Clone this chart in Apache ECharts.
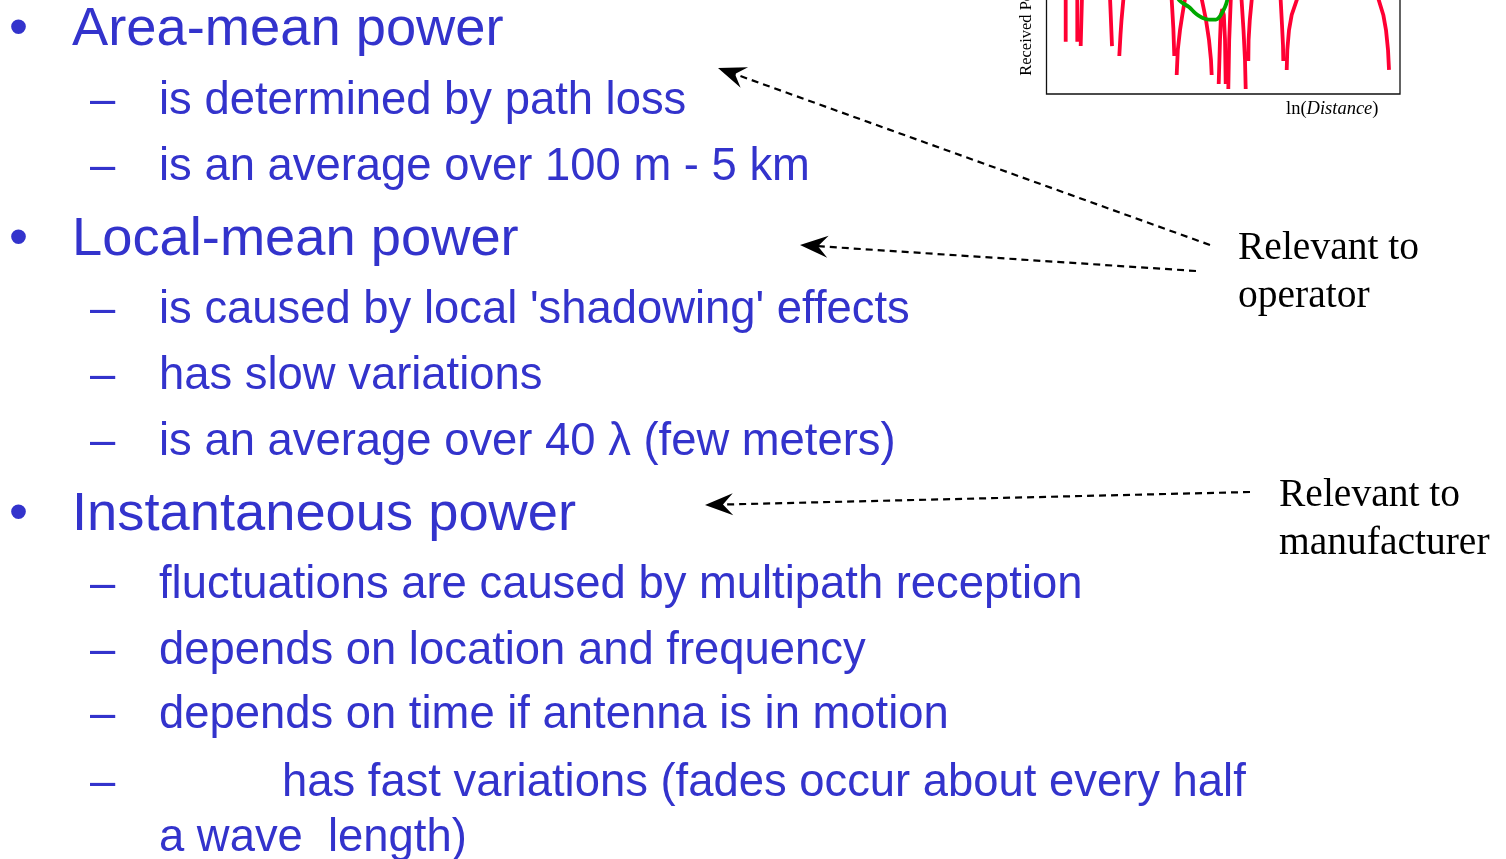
<!DOCTYPE html>
<html><head><meta charset="utf-8">
<script src="https://cdn.jsdelivr.net/npm/echarts@6/dist/echarts.min.js"></script>
<style>html,body{margin:0;padding:0;background:#fff;overflow:hidden}#c{width:1506px;height:859px}</style>
</head><body><div id="c"></div>
<script>
// ---------- data ----------
// Received power (fast fading, red): separate lobes, broken at the deep nulls
const fadingX = [
  5.43, 5.43, 7.07, 8.71, 8.71, '-',
  9.67, 10.04, 14.0, 17.96, 18.53, '-',
  20.59, 20.93, 21.22, 21.81, 28.43, 35.37, 35.88, 36.15, '-',
  36.83, 37.14, 37.77, 38.42, 39.27, 41.44, 43.79, 45.12, 45.97, 46.53, 46.73, '-',
  48.71, 49.08, 49.36, 49.73, 50.16, 50.5, 50.69, '-',
  51.43, 51.68, 52.16, 53.61, 55.13, 55.73, 56.15, 56.35, '-',
  57.09, 57.17, 57.51, 58.13, 62.09, 66.2, 66.62, 66.9, 66.99, '-',
  67.95, 68.12, 68.6, 69.36, 71.09, 82.46, 93.72, 95.28, 96.04, 96.61, 96.89
];
const fadingY = [
  36.3, 67.4, 89.6, 67.4, 36.3, '-',
  33.3, 67.4, 89.6, 67.4, 33.3, '-',
  26.4, 41.0, 51.4, 67.4, 89.6, 67.4, 45.8, 26.4, '-',
  13.2, 30.6, 44.4, 54.9, 67.4, 89.6, 67.4, 51.4, 37.5, 23.6, 13.2, '-',
  6.9, 37.5, 54.9, 59.0, 54.9, 37.5, 6.9, '-',
  3.5, 37.5, 67.4, 89.6, 67.4, 44.4, 23.6, 3.5, '-',
  22.9, 37.5, 51.4, 67.4, 89.6, 67.4, 47.9, 34.0, 22.9, '-',
  16.7, 30.6, 44.4, 54.9, 67.4, 89.6, 67.4, 54.9, 44.4, 30.6, 16.7
];
// Local-mean power (green)
const meanX = [34.94, 37.48, 40.31, 42.0, 43.14, 44.55, 45.97, 47.95, 48.8, 49.65, 50.5, 51.07, 52.2];
const meanY = [79.2, 65.3, 60.4, 56.3, 54.2, 52.4, 51.7, 51.7, 53.1, 56.3, 60.4, 64.6, 79.2];

const yAxisName = 'Received Power';
const xAxisName = ['ln(', 'Distance', ')'];

// slide text
const level0 = ['Area-mean power', 'Local-mean power', 'Instantaneous power'];
const level1 = [
  'is determined by path loss',
  'is an average over 100 m - 5 km',
  'is caused by local \'shadowing\' effects',
  'has slow variations',
  'is an average over 40 \u03bb (few meters)',
  'fluctuations are caused by multipath reception',
  'depends on location and frequency',
  'depends on time if antenna is in motion',
  'has fast variations (fades occur about every half',
  'a wave  length)'
];
const notes = [['Relevant to', 'operator'], ['Relevant to', 'manufacturer']];

// ---------- layout ----------
const BLUE = '#3333cc';
const SANS = 'Liberation Sans, Arial, sans-serif';
const SERIF = 'Liberation Serif, Times New Roman, serif';
const L0 = {fs: 54.3, bulletX: 9, textX: 72, baselines: [49, 259, 534]};
const L1 = {fs: 45.4, dashX: 90, textX: 159,
  baselines: [117, 183, 326, 392, 458, 601, 667, 731, 799, 854],
  xs: [159, 159, 159, 159, 159, 159, 159, 159, 282, 159],
  dash: [1, 1, 1, 1, 1, 1, 1, 1, 1, 0]};
const NOTE = {fs: 39.5, pos: [[1238, 262, 310], [1279, 509, 557]]};
const ARROWS = [
  {from: [1210, 245], to: [718, 68]},
  {from: [1196, 271], to: [800, 245]},
  {from: [1250, 492], to: [705, 505]}
];

function zip(a, b) { return a.map((v, i) => (v === '-' ? ['-', '-'] : [v, b[i]])); }
function txt(s, x, baseline, fs, fam, color) {
  return {type: 'text', silent: true,
    style: {text: s, x: x, y: baseline - 0.345 * fs, fontSize: fs, fontFamily: fam,
      fill: color, align: 'left', verticalAlign: 'middle'}};
}
const graphics = [];
level0.forEach((s, i) => {
  graphics.push(txt('\u2022', L0.bulletX, L0.baselines[i], L0.fs, SANS, BLUE));
  graphics.push(txt(s, L0.textX, L0.baselines[i], L0.fs, SANS, BLUE));
});
level1.forEach((s, i) => {
  if (L1.dash[i]) graphics.push(txt('\u2013', L1.dashX, L1.baselines[i], L1.fs, SANS, BLUE));
  graphics.push(txt(s, L1.xs[i], L1.baselines[i], L1.fs, SANS, BLUE));
});
notes.forEach((pair, i) => {
  const p = NOTE.pos[i];
  graphics.push(txt(pair[0], p[0], p[1], NOTE.fs, SERIF, '#000'));
  graphics.push(txt(pair[1], p[0], p[2], NOTE.fs, SERIF, '#000'));
});
ARROWS.forEach(a => {
  const dx = a.from[0] - a.to[0], dy = a.from[1] - a.to[1];
  const len = Math.hypot(dx, dy), ux = dx / len, uy = dy / len, vx = -uy, vy = ux;
  const P = (s, t) => [a.to[0] + ux * s + vx * t, a.to[1] + uy * s + vy * t];
  const notch = P(18, 0);
  graphics.push({type: 'line', silent: true,
    shape: {x1: a.from[0], y1: a.from[1], x2: notch[0], y2: notch[1]},
    style: {stroke: '#000', lineWidth: 2.2, lineDash: [7, 5]}});
  graphics.push({type: 'polygon', silent: true,
    shape: {points: [P(0, 0), P(28, -11), P(18, 0), P(28, 11)]},
    style: {fill: '#000'}});
});

const chart = echarts.init(document.getElementById('c'), null, {renderer: 'canvas'});
chart.setOption({
  backgroundColor: '#fff',
  animation: false,
  grid: {left: 1046.5, right: 106, top: -50, height: 144, show: true,
    containLabel: false, outerBoundsMode: 'none',
    borderColor: '#111', borderWidth: 1.3, backgroundColor: 'transparent'},
  xAxis: {type: 'value', min: 0, max: 100,
    axisLine: {show: false}, axisTick: {show: false}, axisLabel: {show: false}, splitLine: {show: false},
    name: '{n|' + xAxisName[0] + '}{i|' + xAxisName[1] + '}{n|' + xAxisName[2] + '}',
    nameLocation: 'end', nameGap: -114,
    nameTextStyle: {align: 'left', verticalAlign: 'top', padding: [6, 0, 0, 0],
      rich: {n: {fontFamily: SERIF, fontSize: 18.5, color: '#000'},
             i: {fontFamily: SERIF, fontSize: 18.5, fontStyle: 'italic', color: '#000'}}}},
  yAxis: {type: 'value', min: 0, max: 100,
    axisLine: {show: false}, axisTick: {show: false}, axisLabel: {show: false}, splitLine: {show: false},
    name: yAxisName, nameLocation: 'middle', nameGap: 11,
    nameTextStyle: {fontFamily: SERIF, fontSize: 16.5, color: '#000'}},
  series: [
    {type: 'line', data: zip(fadingX, fadingY), showSymbol: false, connectNulls: false,
     lineStyle: {color: '#ff0033', width: 3.8}, itemStyle: {color: '#ff0033'}},
    {type: 'line', data: zip(meanX, meanY), showSymbol: false, smooth: 0.3,
     lineStyle: {color: '#00a800', width: 3.8}, itemStyle: {color: '#00a800'}}
  ],
  graphic: graphics
});
</script></body></html>
